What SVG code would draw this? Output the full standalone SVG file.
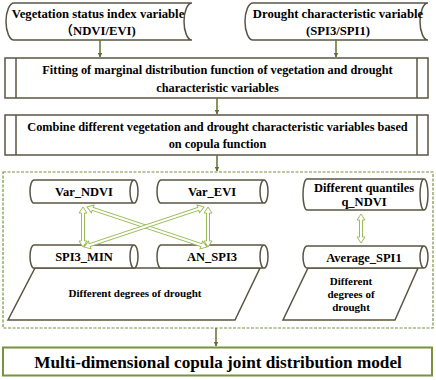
<svg xmlns="http://www.w3.org/2000/svg" width="436" height="380" viewBox="0 0 436 380">
<defs>
<style>
.sh{fill:#fff;stroke:#5a5543;stroke-width:1.5}
.t{font-family:"Liberation Serif","Noto Sans CJK SC",serif;font-weight:bold;fill:#000;text-anchor:middle}
.f12{font-size:12.7px}
.f11{font-size:12.3px}
.fc{font-size:12.5px}
.f10{font-size:11px}
.f18{font-size:17.2px}
.flow{stroke:#5f7232;stroke-width:1.5;fill:none;marker-end:url(#ah)}
.dbl{fill:#fff;stroke:#9bbb59;stroke-width:1}
</style>
<marker id="ah" viewBox="0 0 10 10" refX="9" refY="5" markerWidth="5" markerHeight="5" orient="auto" markerUnits="userSpaceOnUse">
<path d="M0,0 L10,5 L0,10 Z" fill="#5f7232"/>
</marker>
</defs>
<rect width="436" height="380" fill="#fff"/>

<g id="container">
<rect x="3" y="172" width="430" height="156" fill="none" stroke="#77933c" stroke-width="1.2" stroke-dasharray="3,1.5"/>
</g>

<g id="veg">
<path class="sh" d="M14,3 L192,3 A8,18.5 0 0 0 192,40 L14,40 A8,18.5 0 0 1 14,3 Z"/>
<text class="t f12" x="98" y="17.5">Vegetation status index variable</text>
<text class="t f12" x="98" y="34.5">（NDVI/EVI)</text>
</g>

<g id="drought">
<path class="sh" d="M253,3 L428,3 A8,18.5 0 0 0 428,40 L253,40 A8,18.5 0 0 1 253,3 Z"/>
<text class="t f12" x="338" y="17.5">Drought characteristic variable</text>
<text class="t f12" x="338" y="34.5">(SPI3/SPI1)</text>
</g>

<g id="fitting">
<rect class="sh" x="5" y="58" width="423" height="40"/>
<path class="sh" d="M16,58 V98 M417,58 V98"/>
<text class="t f11" x="217.5" y="74">Fitting of marginal distribution function of vegetation and drought</text>
<text class="t f11" x="217.5" y="91.5">characteristic variables</text>
</g>

<g id="combine">
<rect class="sh" x="5" y="115" width="423" height="40"/>
<path class="sh" d="M16,115 V155 M417,115 V155"/>
<text class="t f11" x="217.5" y="131">Combine different vegetation and drought characteristic variables based</text>
<text class="t f11" x="217.5" y="147.5">on copula function</text>
</g>

<g id="degrees1">
<path class="sh" d="M35,268 L260,268 L235,320 L8,320 Z"/>
<text class="t f10" x="135" y="297">Different degrees of drought</text>
</g>

<g id="degrees2">
<path class="sh" d="M308,268 L418,268 L395,320 L283,320 Z"/>
<text class="t f10" x="351" y="285">Different</text>
<text class="t f10" x="351" y="298">degrees of</text>
<text class="t f10" x="351" y="311">drought</text>
</g>

<g id="var_ndvi">
<path class="sh" d="M34,180 L134,180 A4,11.5 0 0 1 134,203 L34,203 A4,11.5 0 0 1 34,180 Z M134,180 A4,11.5 0 0 0 134,203"/>
<text class="t fc" x="84" y="196">Var_NDVI</text>
</g>

<g id="var_evi">
<path class="sh" d="M161,180 L264,180 A4,11.5 0 0 1 264,203 L161,203 A4,11.5 0 0 1 161,180 Z M264,180 A4,11.5 0 0 0 264,203"/>
<text class="t fc" x="212" y="196">Var_EVI</text>
</g>

<g id="spi3_min">
<path class="sh" d="M34,245 L134,245 A4,11.5 0 0 1 134,268 L34,268 A4,11.5 0 0 1 34,245 Z M134,245 A4,11.5 0 0 0 134,268"/>
<text class="t fc" x="84" y="261">SPI3_MIN</text>
</g>

<g id="an_spi3">
<path class="sh" d="M161,245 L264,245 A4,11.5 0 0 1 264,268 L161,268 A4,11.5 0 0 1 161,245 Z M264,245 A4,11.5 0 0 0 264,268"/>
<text class="t fc" x="212" y="261">AN_SPI3</text>
</g>

<g id="q_ndvi">
<path class="sh" d="M307,179 L424,179 A4,15.5 0 0 1 424,210 L307,210 A4,15.5 0 0 1 307,179 Z M424,179 A4,15.5 0 0 0 424,210"/>
<text class="t fc" x="364" y="192">Different quantiles</text>
<text class="t fc" x="364" y="206">q_NDVI</text>
</g>

<g id="avg_spi1">
<path class="sh" d="M307,246 L424,246 A4,11 0 0 1 424,268 L307,268 A4,11 0 0 1 307,246 Z M424,246 A4,11 0 0 0 424,268"/>
<text class="t fc" x="364" y="261.5">Average_SPI1</text>
</g>

<g id="model">
<rect x="3" y="347.5" width="429" height="28" fill="#fff" stroke="#77933c" stroke-width="2"/>
<text class="t f18" x="218" y="367.5">Multi-dimensional copula joint distribution model</text>
</g>

<g id="connectors">
<path class="flow" d="M100,40 V57"/>
<path class="flow" d="M336,40 V57"/>
<path class="flow" d="M217,98 V114"/>
<path class="flow" d="M217,155 V171"/>
<path class="flow" d="M216,328 V346"/>
<path class="dbl" transform="translate(83,207) rotate(90)" d="M0,0 L6,-4 L6,-1.5 L34,-1.5 L34,-4 L40,0 L34,4 L34,1.5 L6,1.5 L6,4 Z"/>
<path class="dbl" transform="translate(208,207) rotate(90)" d="M0,0 L6,-4 L6,-1.5 L34,-1.5 L34,-4 L40,0 L34,4 L34,1.5 L6,1.5 L6,4 Z"/>
<path class="dbl" transform="translate(87,207) rotate(18.43)" d="M0,0 L6,-4 L6,-1.5 L120.5,-1.5 L120.5,-4 L126.5,0 L120.5,4 L120.5,1.5 L6,1.5 L6,4 Z"/>
<path class="dbl" transform="translate(204,207) rotate(161.57)" d="M0,0 L6,-4 L6,-1.5 L120.5,-1.5 L120.5,-4 L126.5,0 L120.5,4 L120.5,1.5 L6,1.5 L6,4 Z"/>
<path class="dbl" transform="translate(361,214) rotate(90)" d="M0,0 L6,-4 L6,-1.5 L23,-1.5 L23,-4 L29,0 L23,4 L23,1.5 L6,1.5 L6,4 Z"/>
</g>
</svg>
